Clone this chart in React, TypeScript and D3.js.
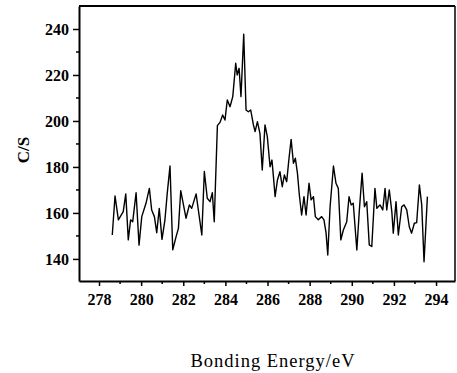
import React, { useEffect, useRef } from 'react';
import * as d3 from 'd3';

// binding energy (eV) and counts per second
const energy = [
  278.63, 278.76, 278.92, 279.15, 279.27, 279.39, 279.5, 279.6, 279.76, 279.9,
  280.03, 280.23, 280.39, 280.5, 280.63, 280.74, 280.86, 280.99, 281.13, 281.24,
  281.37, 281.5, 281.66, 281.77, 281.88, 282.13, 282.29, 282.4, 282.61, 282.88,
  283.0, 283.14, 283.27, 283.38, 283.47, 283.62, 283.75, 283.87, 283.98, 284.09,
  284.22, 284.35, 284.49, 284.56, 284.65, 284.74, 284.87, 284.98, 285.09, 285.2,
  285.33, 285.41, 285.52, 285.64, 285.75, 285.88, 285.99, 286.12, 286.21, 286.28,
  286.36, 286.47, 286.59, 286.7, 286.8, 286.91, 287.02, 287.12, 287.23, 287.32,
  287.42, 287.51, 287.62, 287.73, 287.83, 287.97, 288.07, 288.18, 288.27, 288.41,
  288.57, 288.68, 288.78, 288.86, 288.97, 289.13, 289.25, 289.36, 289.48, 289.6,
  289.76, 289.87, 289.97, 290.07, 290.24, 290.36, 290.49, 290.6, 290.71, 290.83,
  290.95, 291.1, 291.19, 291.34, 291.47, 291.58, 291.66, 291.78, 291.9, 291.97,
  292.1, 292.21, 292.37, 292.48, 292.61, 292.73, 292.84, 292.97, 293.08, 293.21,
  293.32, 293.43, 293.59,
];
const counts = [
  150.4, 167.4, 157, 160.6, 168.3, 148.3, 157, 156.2, 168.8, 146,
  158.4, 164.2, 170.7, 161.3, 158.4, 151.4, 162, 148.5, 157, 168.6,
  180.4, 144, 149.7, 153.3, 169.7, 157.7, 163.5, 162, 168.3, 150.4,
  178, 166.4, 164.9, 168.8, 156.2, 198, 199.5, 202.6, 200.4, 209.1,
  206.2, 210.6, 225.1, 220, 222.9, 210.6, 237.7, 204.8, 204, 204.8,
  198.3, 195.4, 199.7, 194.6, 178.7, 198.3, 193.2, 180.1, 183, 175.8,
  167.1, 174.3, 177.9, 171.4, 176.5, 173.6, 183.8, 192, 181.6, 183.8,
  177.3, 167.8, 159.1, 167.1, 159.1, 172.9, 165.7, 167.1, 158.4, 157,
  158.4, 157, 151.2, 141.7, 162.7, 180.4, 172.9, 170.7, 148.3, 152.6,
  156.2, 167.1, 163.5, 164.2, 143.9, 161.3, 177.3, 162.7, 164.9, 146.1,
  145.4, 170.7, 162, 163.5, 161.3, 170.7, 161.3, 170, 160.6, 151.2,
  164.9, 150.4, 162.7, 163.5, 161.3, 154, 151.2, 155.5, 155.8, 172.2,
  163.5, 138.8, 167.1,
];

const xTicks = [278, 280, 282, 284, 286, 288, 290, 292, 294];
const xMinor = [279, 281, 283, 285, 287, 289, 291, 293, 295];
const yTicks = [140, 160, 180, 200, 220, 240];
const yMinor = [150, 170, 190, 210, 230];

const xTitle = 'Bonding Energy/eV';
const yTitle = 'C/S';

export default function App() {
  const svgRef = useRef<SVGSVGElement>(null);

  useEffect(() => {
    const svg = d3.select(svgRef.current);
    svg.selectAll('*').remove();

    const left = 79, right = 455, top = 6, bottom = 281;
    const font = '"Liberation Serif", "Times New Roman", serif';

    const x = d3.scaleLinear().domain([277.05, 294.9]).range([left, right]);
    const y = d3.scaleLinear().domain([130.4, 250]).range([bottom, top]);

    // frame
    svg.append('line').attr('x1', left).attr('x2', right).attr('y1', top).attr('y2', top)
      .attr('stroke', '#000').attr('stroke-width', 2);
    svg.append('line').attr('x1', right).attr('x2', right).attr('y1', top).attr('y2', bottom)
      .attr('stroke', '#000').attr('stroke-width', 1.5);

    // bottom axis
    const xAxis = svg.append('g').attr('transform', `translate(0,${bottom})`);
    xAxis.call(d3.axisBottom(x).tickValues(xTicks).tickSize(5).tickSizeOuter(0).tickPadding(8)
      .tickFormat(d3.format('d')));
    xAxis.append('g').selectAll('line')
      .data(xMinor.filter(d => x(d) <= right))
      .enter().append('line')
      .attr('x1', d => x(d)).attr('x2', d => x(d)).attr('y1', 0).attr('y2', 3)
      .attr('stroke', '#000').attr('stroke-width', 1.5);

    // left axis
    const yAxis = svg.append('g').attr('transform', `translate(${left},0)`);
    yAxis.call(d3.axisLeft(y).tickValues(yTicks).tickSize(6).tickSizeOuter(0).tickPadding(4)
      .tickFormat(d3.format('d')));
    yAxis.append('g').selectAll('line')
      .data(yMinor)
      .enter().append('line')
      .attr('x1', 0).attr('x2', -3).attr('y1', d => y(d)).attr('y2', d => y(d))
      .attr('stroke', '#000').attr('stroke-width', 1.5);

    [xAxis, yAxis].forEach(g => {
      g.select('.domain').attr('stroke-width', 2);
      g.selectAll('.tick line').attr('stroke-width', 1.5);
      g.selectAll('.tick text')
        .attr('font-family', font)
        .attr('font-weight', 'bold')
        .attr('font-size', 16)
        .attr('fill', '#000');
    });

    // spectrum
    const pts = energy.map((e, i) => [e, counts[i]] as [number, number]);
    svg.append('path')
      .datum(pts)
      .attr('fill', 'none')
      .attr('stroke', '#000')
      .attr('stroke-width', 1.4)
      .attr('stroke-linejoin', 'round')
      .attr('d', d3.line<[number, number]>().x(d => x(d[0])).y(d => y(d[1])));

    // titles
    svg.append('text')
      .attr('transform', 'translate(29,150) rotate(-90)')
      .attr('text-anchor', 'middle')
      .attr('font-family', font)
      .attr('font-weight', 'bold')
      .attr('font-size', 17)
      .text(yTitle);

    svg.append('text')
      .attr('x', 273).attr('y', 367)
      .attr('text-anchor', 'middle')
      .attr('font-family', font)
      .attr('font-size', 18.5)
      .attr('letter-spacing', 1)
      .text(xTitle);
  }, []);

  return (
    <svg ref={svgRef} width={457} height={373}
      style={{ position: 'absolute', left: 0, top: 0, background: '#fff' }} />
  );
}
